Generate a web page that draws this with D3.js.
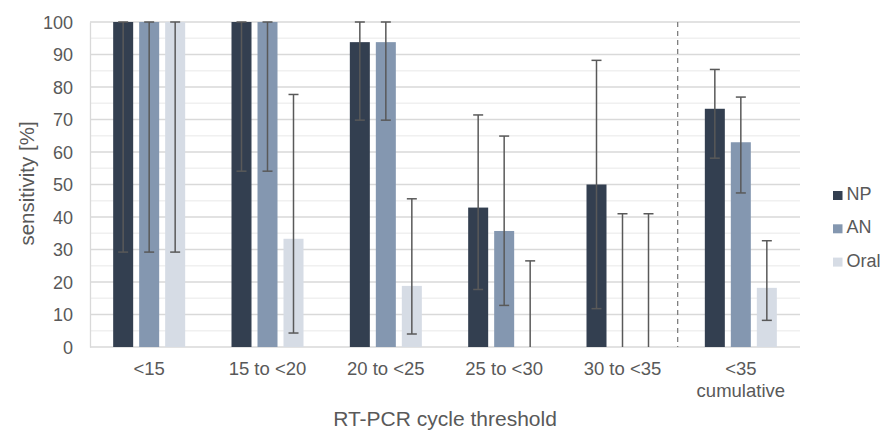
<!DOCTYPE html>
<html>
<head>
<meta charset="utf-8">
<script src="https://cdn.jsdelivr.net/npm/d3@7"></script>
<style>
    body { margin: 0; background: #fff; }
    svg text { font-family: "Liberation Sans", Arial, sans-serif; fill: #595959; }
</style>
</head>
<body>
<svg width="883" height="431"></svg>
<script>
// data
const categories = ["<15", "15 to <20", "20 to <25", "25 to <30", "30 to <35", "<35|cumulative"];
const seriesNames = ["NP", "AN", "Oral"];
const colors = ["#333f50", "#8497b0", "#d6dce5"];

const npValues = [100, 100, 93.8, 42.9, 50, 73.3];
const npLow = [29.2, 54.1, 69.8, 17.7, 11.8, 58.1];
const npHigh = [100, 100, 100, 71.4, 88.2, 85.4];

const anValues = [100, 100, 93.8, 35.7, 0, 63.0];
const anLow = [29.2, 54.1, 69.8, 12.8, 0, 47.4];
const anHigh = [100, 100, 100, 64.9, 41.0, 76.9];

const oralValues = [100, 33.3, 18.8, 0, 0, 18.2];
const oralLow = [29.2, 4.3, 4.0, 0, 0, 8.2];
const oralHigh = [100, 77.7, 45.6, 26.5, 41.0, 32.7];

const yTicks = [0, 10, 20, 30, 40, 50, 60, 70, 80, 90, 100];

const series = [
    {name: "NP", values: npValues, low: npLow, high: npHigh},
    {name: "AN", values: anValues, low: anLow, high: anHigh},
    {name: "Oral", values: oralValues, low: oralLow, high: oralHigh},
];

const svg = d3.select("svg");
const plotLeft = 90, plotRight = 800, plotTop = 22, plotBottom = 347;

const x = d3.scaleBand().domain(categories).range([plotLeft, plotRight]);
const y = d3.scaleLinear().domain([0, 100]).range([plotBottom, plotTop]);

const barW = 20, barStep = 26;

// minor gridlines
svg.append("g")
    .selectAll("line")
    .data(d3.range(5, 100, 10))
    .enter().append("line")
    .attr("x1", plotLeft).attr("x2", plotRight)
    .attr("y1", d => y(d)).attr("y2", d => y(d))
    .style("stroke", "#f0f0f0")
    .style("stroke-width", 1.3);

// major gridlines
svg.append("g")
    .selectAll("line")
    .data(yTicks.slice(1))
    .enter().append("line")
    .attr("x1", plotLeft).attr("x2", plotRight)
    .attr("y1", d => y(d)).attr("y2", d => y(d))
    .style("stroke", "#d9d9d9")
    .style("stroke-width", 1.3);

// y axis
const yAxis = svg.append("g")
    .attr("transform", `translate(${plotLeft},0)`)
    .call(d3.axisLeft(y).tickValues(yTicks).tickSize(0).tickPadding(17));
yAxis.attr("font-family", null).attr("font-size", null);
yAxis.select(".domain").style("stroke", "#d9d9d9").style("stroke-width", 1.3);
yAxis.selectAll("text").style("font-size", "18px").attr("dy", "0.35em");

// x axis line
svg.append("line")
    .attr("x1", plotLeft).attr("x2", plotRight)
    .attr("y1", plotBottom).attr("y2", plotBottom)
    .style("stroke", "#d9d9d9")
    .style("stroke-width", 1.3);

// bars
series.forEach((s, si) => {
    const off = (si - 1) * barStep;
    svg.append("g")
        .selectAll("rect")
        .data(categories.map((c, i) => ({c, v: s.values[i]})))
        .enter().append("rect")
        .attr("x", d => x(d.c) + x.bandwidth() / 2 + off - barW / 2)
        .attr("y", d => y(d.v))
        .attr("width", barW)
        .attr("height", d => plotBottom - y(d.v))
        .style("fill", colors[si]);
});

// error bars
series.forEach((s, si) => {
    const g = svg.append("g");
    const off = (si - 1) * barStep;
    const data = categories.map((c, i) => ({
        cx: x(c) + x.bandwidth() / 2 + off,
        lo: s.low[i],
        hi: s.high[i]
    }));
    g.selectAll("line.v")
        .data(data)
        .enter().append("line")
        .attr("class", "v")
        .attr("x1", d => d.cx).attr("x2", d => d.cx)
        .attr("y1", d => y(d.lo)).attr("y2", d => y(d.hi))
        .style("stroke", "#595959").style("stroke-width", 1.5);
    ["lo", "hi"].forEach(k => {
        g.selectAll("line." + k)
            .data(data.filter(d => d[k] > 0))
            .enter().append("line")
            .attr("class", k)
            .attr("x1", d => d.cx - 5).attr("x2", d => d.cx + 5)
            .attr("y1", d => y(d[k])).attr("y2", d => y(d[k]))
            .style("stroke", "#595959").style("stroke-width", 1.5);
    });
});

// dashed separator before cumulative group
const sepX = x(categories[5]) - 4;
svg.append("line")
    .attr("x1", sepX).attr("x2", sepX)
    .attr("y1", plotTop).attr("y2", plotBottom)
    .style("stroke", "#7f7f7f")
    .style("stroke-width", 1.3)
    .style("stroke-dasharray", "5,4");

// x labels
svg.append("g")
    .selectAll("text")
    .data(categories)
    .enter().append("text")
    .attr("y", 375)
    .attr("text-anchor", "middle")
    .style("font-size", "18.5px")
    .each(function (d) {
        d.split("|").forEach((part, i) => {
            d3.select(this).append("tspan")
                .attr("x", x(d) + x.bandwidth() / 2)
                .attr("dy", i === 0 ? 0 : 22)
                .text(part);
        });
    });

// axis titles
svg.append("text")
    .attr("x", (plotLeft + plotRight) / 2)
    .attr("y", 426)
    .attr("text-anchor", "middle")
    .style("font-size", "21px")
    .text("RT-PCR cycle threshold");

svg.append("text")
    .attr("transform", `translate(34,${(plotTop + plotBottom) / 2 - 1}) rotate(-90)`)
    .attr("text-anchor", "middle")
    .style("font-size", "20.5px")
    .text("sensitivity [%]");

// legend
const legend = svg.append("g")
    .selectAll("g")
    .data(seriesNames)
    .enter().append("g")
    .attr("transform", (d, i) => `translate(833,${200 + i * 33.3})`);
legend.append("rect")
    .attr("x", 0).attr("y", -9)
    .attr("width", 9.5).attr("height", 9)
    .style("fill", (d, i) => colors[i]);
legend.append("text")
    .attr("x", 13.5).attr("y", 0)
    .style("font-size", "18px")
    .text(d => d);
</script>
</body>
</html>
